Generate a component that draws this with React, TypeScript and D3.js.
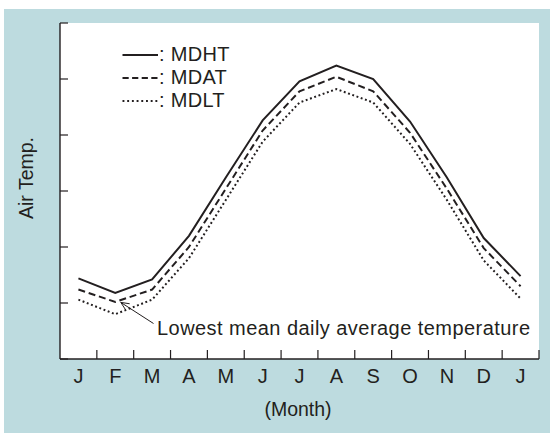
import React from "react";
import * as d3 from "d3";

const months = ["J", "F", "M", "A", "M", "J", "J", "A", "S", "O", "N", "D", "J"];
const mdht = [7.2, 5.9, 7.1, 11.0, 16.2, 21.3, 24.8, 26.2, 25.0, 21.2, 16.2, 10.8, 7.4];
const mdat = [6.2, 5.1, 6.2, 10.0, 15.2, 20.4, 23.9, 25.2, 23.9, 20.2, 15.2, 9.9, 6.5];
const mdlt = [5.3, 4.0, 5.3, 9.0, 14.2, 19.4, 22.9, 24.1, 22.9, 19.2, 14.2, 8.8, 5.4];
const yTicks = [0, 5, 10, 15, 20, 25, 30];
const legendLabels = [": MDHT", ": MDAT", ": MDLT"];
const annotation = "Lowest mean daily average temperature";

const INK = "#231F20";
const BG = "#BDDBDF";
const FONT = "'Liberation Sans', Arial, Helvetica, sans-serif";

export default function App() {
  const left = 60, right = 539, top = 23, bottom = 359;
  const x = d3.scaleBand<number>().domain(months.map((_, i) => i)).range([left, right]).padding(0);
  const cx = (i: number) => (x(i) as number) + x.bandwidth() / 2;
  const y = d3.scaleLinear().domain([0, 30]).range([bottom, top]);
  const line = d3.line<number>().x((_, i) => cx(i)).y((d) => y(d));

  const series = [
    { data: mdht, dash: null as string | null },
    { data: mdat, dash: "7,3.8" },
    { data: mdlt, dash: "1.9,2.6" },
  ];
  const legendDash = [null, "6.2,3.4", "1.9,2.8"];

  // arrow geometry
  const tip: [number, number] = [cx(1) + 5.5, y(mdat[1]) + 0.5];
  const tail: [number, number] = [153.5, 323.5];
  const ang = Math.atan2(tail[1] - tip[1], tail[0] - tip[0]);
  const ah = 9, aw = 0.42;
  const p1 = [tip[0] + ah * Math.cos(ang - aw), tip[1] + ah * Math.sin(ang - aw)];
  const p2 = [tip[0] + ah * Math.cos(ang + aw), tip[1] + ah * Math.sin(ang + aw)];

  return (
    <svg width={550} height={435} style={{ position: "absolute", left: 0, top: 0 }} fontFamily={FONT}>
      <rect x={4} y={9} width={546} height={424} fill={BG} />
      <rect x={left} y={top} width={right - left} height={bottom - top} fill="#ffffff" />

      {/* axes */}
      <line x1={left} x2={left} y1={top} y2={bottom} stroke={INK} strokeWidth={1.4} />
      <line x1={left} x2={right} y1={bottom} y2={bottom} stroke={INK} strokeWidth={1.4} />
      {yTicks.map((t) => (
        <line key={"yt" + t} x1={left} x2={left + 8} y1={y(t)} y2={y(t)} stroke={INK} strokeWidth={1.2} />
      ))}
      {months.map((_, i) => (
        <line
          key={"xt" + i}
          x1={(x(i) as number) + x.bandwidth()}
          x2={(x(i) as number) + x.bandwidth()}
          y1={bottom}
          y2={bottom - 9}
          stroke={INK}
          strokeWidth={1.2}
        />
      ))}
      {months.map((m, i) => (
        <text key={"xl" + i} x={cx(i)} y={383} textAnchor="middle" fontSize={20} fill={INK}>
          {m}
        </text>
      ))}
      <text x={298} y={416} textAnchor="middle" fontSize={19.5} fill={INK}>
        (Month)
      </text>
      <text transform="translate(33,178) rotate(-90)" textAnchor="middle" fontSize={19.5} fill={INK}>
        Air Temp.
      </text>

      {/* series */}
      {series.map((s, k) => (
        <path
          key={"s" + k}
          d={line(s.data) || ""}
          fill="none"
          stroke={INK}
          strokeWidth={2}
          strokeDasharray={s.dash || undefined}
          strokeLinejoin="miter"
        />
      ))}

      {/* legend */}
      {legendLabels.map((lab, k) => (
        <g key={"lg" + k}>
          <line
            x1={122.5}
            x2={158}
            y1={55 + k * 23}
            y2={55 + k * 23}
            stroke={INK}
            strokeWidth={2}
            strokeDasharray={legendDash[k] || undefined}
          />
          <text x={159} y={60.5 + k * 23} fontSize={20} letterSpacing={0.3} fill={INK}>
            {lab}
          </text>
        </g>
      ))}

      {/* annotation */}
      <line x1={tail[0]} y1={tail[1]} x2={tip[0]} y2={tip[1]} stroke={INK} strokeWidth={1} />
      <polyline
        points={`${p1[0]},${p1[1]} ${tip[0]},${tip[1]} ${p2[0]},${p2[1]}`}
        fill="none"
        stroke={INK}
        strokeWidth={1}
      />
      <text x={157} y={335} fontSize={20} letterSpacing={0.45} fill={INK}>
        {annotation}
      </text>
    </svg>
  );
}
